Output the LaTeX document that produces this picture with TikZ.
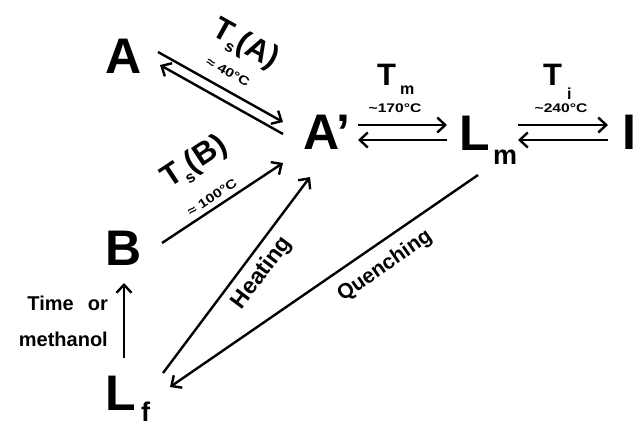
\documentclass[tikz,border=0pt]{standalone}
\usepackage{fontspec}
\setmainfont{Liberation Sans}
\usetikzlibrary{arrows.meta}
\newcommand{\wide}[1]{\scalebox{1.25}[1]{#1}}
\begin{document}
\begin{tikzpicture}[x=1pt,y=-1pt,
  big/.style={font=\bfseries\fontsize{50}{50}\selectfont, inner sep=0, anchor=base west},
  sub/.style={font=\bfseries\fontsize{27}{27}\selectfont, inner sep=0, anchor=base west},
  tlab/.style={font=\bfseries\fontsize{31}{31}\selectfont, inner sep=0, anchor=base west},
  tsub/.style={font=\bfseries\fontsize{16}{16}\selectfont, inner sep=0, anchor=base west},
  small/.style={font=\bfseries\fontsize{12.5}{12.5}\selectfont, inner sep=0},
  word/.style={font=\bfseries\fontsize{23}{23}\selectfont, inner sep=0},
  side/.style={font=\bfseries\fontsize{20}{20}\selectfont, inner sep=0, anchor=base east},
  conn/.style={line width=2.4pt, -{Straight Barb[length=8pt,width=15pt]}},
]
\useasboundingbox (0,0) rectangle (636,424);
% main species
\node[big] (A) at (105,73) {A};
\node[big] (Ap) at (303,149) {A’};
\node[big] (Lm) at (459,150) {L};
\node[sub] (Lmsub) at (493,164) {m};
\node[big] (I) at (622,149) {I};
\node[big] (B) at (105,265) {B};
\node[big] (Lf) at (105,410) {L};
\node[sub] (Lfsub) at (141,421) {f};
% end points
\coordinate (a1) at (158,52);  \coordinate (a2) at (283,122);
\coordinate (a3) at (283,134); \coordinate (a4) at (160,65);
\coordinate (b1) at (162,243); \coordinate (b2) at (283,163);
\coordinate (h1) at (163,373); \coordinate (h2) at (310,177);
\coordinate (q1) at (478,175); \coordinate (q2) at (170,387);
\coordinate (v1) at (124,358); \coordinate (v2) at (124,283);
\coordinate (m1) at (358,125); \coordinate (m2) at (447,125);
\coordinate (m3) at (447,140); \coordinate (m4) at (358,140);
\coordinate (i1) at (518,125); \coordinate (i2) at (608,125);
\coordinate (i3) at (608,140); \coordinate (i4) at (518,140);
% connectors
\draw[conn] (a1) -- (a2);
\draw[conn] (a3) -- (a4);
\draw[conn] (b1) -- (b2);
\draw[conn] (h1) -- (h2);
\draw[conn] (q1) -- (q2);
\draw[conn] (v1) -- (v2);
\draw[conn] (m1) -- (m2);
\draw[conn] (m3) -- (m4);
\draw[conn] (i1) -- (i2);
\draw[conn] (i3) -- (i4);
% labels
\node[rotate=-29, font=\bfseries\fontsize{31}{31}\selectfont, inner sep=0] (TsA) at (245,45)
  {T\raisebox{-7pt}{\fontsize{16}{16}\selectfont s}(A)};
\node[small, rotate=-29] (c40) at (228,72) {\wide{≈ 40°C}};
\node[rotate=33.5, font=\bfseries\fontsize{31}{31}\selectfont, inner sep=0] (TsB) at (195,163)
  {T\raisebox{-7pt}{\fontsize{16}{16}\selectfont s}(B)};
\node[small, rotate=33.5] (c100) at (212,197) {\wide{≈ 100°C}};
\node[tlab] (Tm) at (377,85) {T};
\node[tsub] (Tmsub) at (400,94) {m};
\node[small] (c170) at (395,108) {\wide{\textasciitilde 170°C}};
\node[tlab] (Ti) at (543,85) {T};
\node[tsub] (Tisub) at (567,99) {i};
\node[small] (c240) at (561,108) {\wide{\textasciitilde 240°C}};
\node[word, rotate=53] (heat) at (262,273) {Heating};
\node[word, rotate=35, font=\bfseries\fontsize{21}{21}\selectfont] (quench) at (385,266) {Quenching};
\node[side] (time) at (108,310) {Time\hspace{14pt}or};
\node[side] (meth) at (108,346) {methanol};
\end{tikzpicture}
\end{document}
